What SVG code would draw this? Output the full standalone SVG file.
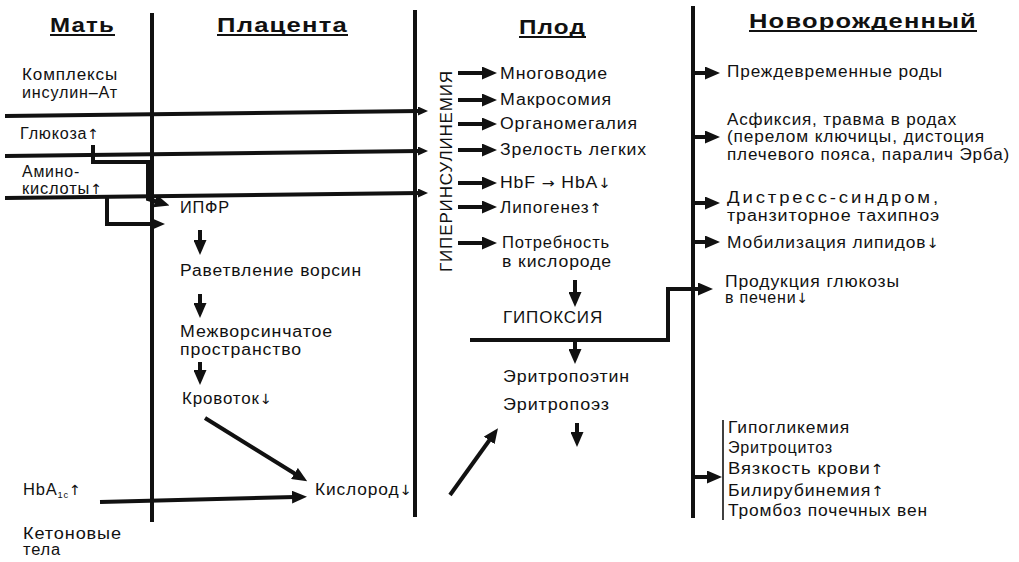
<svg xmlns="http://www.w3.org/2000/svg" width="1019" height="562" viewBox="0 0 1019 562">
<defs>
<style>
.t{font-family:"Liberation Sans",Arial,sans-serif;font-size:16px;letter-spacing:0.8px;fill:#111}
.h{font-family:"Liberation Sans",Arial,sans-serif;font-size:21px;font-weight:bold;letter-spacing:1px;fill:#111}
.ar{font-family:"DejaVu Sans",sans-serif;font-size:14px}
.ln{stroke:#111;stroke-width:4;fill:none}
.ul{stroke:#111;stroke-width:1.8}
.thin{stroke:#111;stroke-width:1.6;fill:none}
</style>
<marker id="a" viewBox="0 0 15 13" refX="3" refY="6.5" markerWidth="15" markerHeight="13" markerUnits="userSpaceOnUse" orient="auto"><path d="M0,0 L15,6.5 L0,13 z" fill="#111"/></marker>
<marker id="s" viewBox="0 0 10 9" refX="2" refY="4.5" markerWidth="10" markerHeight="9" markerUnits="userSpaceOnUse" orient="auto"><path d="M0,0 L10,4.5 L0,9 z" fill="#111"/></marker>
</defs>
<rect width="1019" height="562" fill="#fff"/>

<g id="headers">
<text class="h" x="50" y="32" textLength="65" lengthAdjust="spacingAndGlyphs">Мать</text>
<line class="ul" x1="50" y1="35" x2="115" y2="35"/>
<text class="h" x="217" y="32" textLength="131" lengthAdjust="spacingAndGlyphs">Плацента</text>
<line class="ul" x1="217" y1="35" x2="348" y2="35"/>
<text class="h" x="519" y="34" textLength="67" lengthAdjust="spacingAndGlyphs">Плод</text>
<line class="ul" x1="519" y1="37" x2="586" y2="37"/>
<text class="h" x="749" y="28" textLength="228" lengthAdjust="spacingAndGlyphs">Новорожденный</text>
<line class="ul" x1="749" y1="31" x2="977" y2="31"/>
</g>

<g id="dividers">
<line class="ln" x1="152" y1="13" x2="152" y2="522"/>
<line class="ln" x1="415" y1="10" x2="415" y2="517"/>
<line class="ln" x1="693" y1="6" x2="693" y2="518"/>
</g>

<g id="connectors">
<path class="ln" d="M5,116 L420,111" marker-end="url(#s)"/>
<path class="ln" d="M5,156 L420,151" marker-end="url(#s)"/>
<path class="ln" d="M5,198 L420,193" marker-end="url(#s)"/>
<path class="ln" d="M93,145 V162 H148 V199 L158,202" marker-end="url(#a)"/>
<path class="ln" d="M107,198 V224 H153" marker-end="url(#a)"/>
<path class="ln" d="M200,230 V243" marker-end="url(#a)"/>
<path class="ln" d="M200,294 V306" marker-end="url(#a)"/>
<path class="ln" d="M200,362 V373" marker-end="url(#a)"/>
<path class="ln" stroke-width="3.5" d="M205,418 L297,475" marker-end="url(#a)"/>
<path class="ln" d="M100,502 L295,497" marker-end="url(#a)"/>
<path class="ln" d="M458,73 H485" marker-end="url(#a)"/>
<path class="ln" d="M458,100 H485" marker-end="url(#a)"/>
<path class="ln" d="M458,124 H485" marker-end="url(#a)"/>
<path class="ln" d="M458,150 H485" marker-end="url(#a)"/>
<path class="ln" d="M458,183 H485" marker-end="url(#a)"/>
<path class="ln" d="M458,207 H485" marker-end="url(#a)"/>
<path class="ln" d="M458,243 H485" marker-end="url(#a)"/>
<path class="ln" d="M575,280 V295" marker-end="url(#a)"/>
<path class="ln" d="M470,340 H668 V289 H701" marker-end="url(#a)"/>
<path class="ln" d="M575,342 V352" marker-end="url(#a)"/>
<path class="ln" d="M577,423 V435" marker-end="url(#a)"/>
<path class="ln" d="M450,495 L491,438" marker-end="url(#a)"/>
<path class="ln" d="M693,73 H708" marker-end="url(#a)"/>
<path class="ln" d="M693,137 H708" marker-end="url(#a)"/>
<path class="ln" d="M693,203 H708" marker-end="url(#a)"/>
<path class="ln" d="M693,242 H708" marker-end="url(#a)"/>
<path class="ln" d="M693,477 H710" marker-end="url(#a)"/>
<line class="thin" x1="723" y1="420" x2="723" y2="520"/>
</g>

<g id="mother">
<g id="n-complexes"><text class="t" x="22" y="80" textLength="96" lengthAdjust="spacingAndGlyphs">Комплексы</text><text class="t" x="22" y="98" textLength="96" lengthAdjust="spacingAndGlyphs">инсулин–Ат</text></g>
<g id="n-glucose"><text class="t" x="20" y="139" textLength="80" lengthAdjust="spacingAndGlyphs">Глюкоза<tspan class="ar">↑</tspan></text></g>
<g id="n-amino"><text class="t" x="22" y="177" textLength="58" lengthAdjust="spacingAndGlyphs">Амино-</text><text class="t" x="22" y="194" textLength="81" lengthAdjust="spacingAndGlyphs">кислоты<tspan class="ar">↑</tspan></text></g>
<g id="n-hba1c"><text class="t" x="23" y="495" textLength="59" lengthAdjust="spacingAndGlyphs">HbA<tspan font-size="9" dy="3">1c</tspan><tspan class="ar" dy="-3">↑</tspan></text></g>
<g id="n-ketone"><text class="t" x="23" y="539" textLength="99" lengthAdjust="spacingAndGlyphs">Кетоновые</text><text class="t" x="23" y="555" textLength="38" lengthAdjust="spacingAndGlyphs">тела</text></g>
</g>

<g id="placenta">
<g id="n-ipfr"><text class="t" x="180" y="213" textLength="50" lengthAdjust="spacingAndGlyphs">ИПФР</text></g>
<g id="n-branch"><text class="t" x="180" y="276" textLength="182" lengthAdjust="spacingAndGlyphs">Раветвление ворсин</text></g>
<g id="n-space"><text class="t" x="180" y="337" textLength="153" lengthAdjust="spacingAndGlyphs">Межворсинчатое</text><text class="t" x="180" y="355" textLength="122" lengthAdjust="spacingAndGlyphs">пространство</text></g>
<g id="n-flow"><text class="t" x="182" y="404" textLength="91" lengthAdjust="spacingAndGlyphs">Кровоток<tspan class="ar">↓</tspan></text></g>
<g id="n-oxygen"><text class="t" x="315" y="495" textLength="98" lengthAdjust="spacingAndGlyphs">Кислород<tspan class="ar">↓</tspan></text></g>
</g>

<g id="fetus">
<g id="n-hyperins"><text class="t" transform="translate(452,171) rotate(-90)" x="0" y="0" text-anchor="middle" textLength="202" lengthAdjust="spacingAndGlyphs">ГИПЕРИНСУЛИНЕМИЯ</text></g>
<g id="n-f1"><text class="t" x="500" y="79" textLength="108" lengthAdjust="spacingAndGlyphs">Многоводие</text></g>
<g id="n-f2"><text class="t" x="500" y="105" textLength="112" lengthAdjust="spacingAndGlyphs">Макросомия</text></g>
<g id="n-f3"><text class="t" x="500" y="129" textLength="138" lengthAdjust="spacingAndGlyphs">Органомегалия</text></g>
<g id="n-f4"><text class="t" x="500" y="155" textLength="147" lengthAdjust="spacingAndGlyphs">Зрелость легких</text></g>
<g id="n-f5"><text class="t" x="500" y="188" textLength="112" lengthAdjust="spacingAndGlyphs">HbF <tspan class="ar">→</tspan> HbA<tspan class="ar">↓</tspan></text></g>
<g id="n-f6"><text class="t" x="500" y="213" textLength="103" lengthAdjust="spacingAndGlyphs">Липогенез<tspan class="ar">↑</tspan></text></g>
<g id="n-f7"><text class="t" x="502" y="248" textLength="108" lengthAdjust="spacingAndGlyphs">Потребность</text><text class="t" x="502" y="267" textLength="110" lengthAdjust="spacingAndGlyphs">в кислороде</text></g>
<g id="n-hypoxia"><text class="t" x="503" y="323" textLength="100" lengthAdjust="spacingAndGlyphs">ГИПОКСИЯ</text></g>
<g id="n-epo"><text class="t" x="503" y="382" textLength="127" lengthAdjust="spacingAndGlyphs">Эритропоэтин</text></g>
<g id="n-erythro"><text class="t" x="503" y="410" textLength="107" lengthAdjust="spacingAndGlyphs">Эритропоэз</text></g>
</g>

<g id="newborn">
<g id="n-n1"><text class="t" x="727" y="77" textLength="216" lengthAdjust="spacingAndGlyphs">Преждевременные роды</text></g>
<g id="n-n2"><text class="t" x="727" y="125" textLength="230" lengthAdjust="spacingAndGlyphs">Асфиксия, травма в родах</text><text class="t" x="727" y="142" textLength="258" lengthAdjust="spacingAndGlyphs">(перелом ключицы, дистоция</text><text class="t" x="727" y="160" textLength="283" lengthAdjust="spacingAndGlyphs">плечевого пояса, паралич Эрба)</text></g>
<g id="n-n3"><text class="t" x="727" y="203" textLength="214" lengthAdjust="spacingAndGlyphs" style="letter-spacing:2.5px">Дистресс-синдром,</text><text class="t" x="727" y="221" textLength="213" lengthAdjust="spacingAndGlyphs">транзиторное тахипноэ</text></g>
<g id="n-n4"><text class="t" x="727" y="248" textLength="213" lengthAdjust="spacingAndGlyphs">Мобилизация липидов<tspan class="ar">↓</tspan></text></g>
<g id="n-n5"><text class="t" x="725" y="287" textLength="175" lengthAdjust="spacingAndGlyphs">Продукция глюкозы</text><text class="t" x="725" y="303" textLength="84" lengthAdjust="spacingAndGlyphs">в печени<tspan class="ar">↓</tspan></text></g>
<g id="n-n6"><text class="t" x="728" y="433" textLength="122" lengthAdjust="spacingAndGlyphs">Гипогликемия</text><text class="t" x="728" y="453" textLength="105" lengthAdjust="spacingAndGlyphs">Эритроцитоз</text><text class="t" x="728" y="474" textLength="157" lengthAdjust="spacingAndGlyphs">Вязкость крови<tspan class="ar">↑</tspan></text><text class="t" x="728" y="496" textLength="157" lengthAdjust="spacingAndGlyphs">Билирубинемия<tspan class="ar">↑</tspan></text><text class="t" x="728" y="516" textLength="200" lengthAdjust="spacingAndGlyphs">Тромбоз почечных вен</text></g>
</g>
</svg>
